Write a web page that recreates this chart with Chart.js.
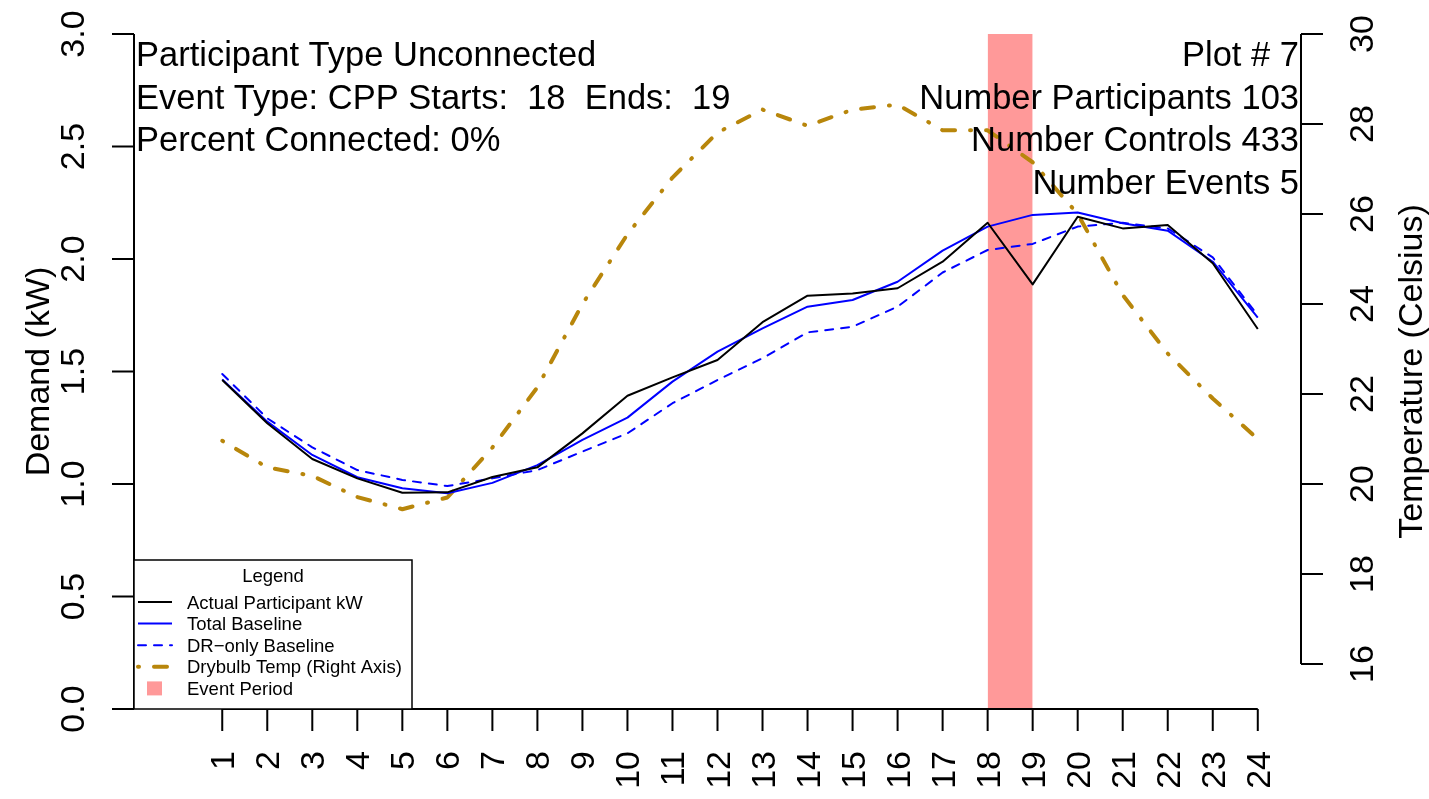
<!DOCTYPE html>
<html>
<head>
<meta charset="utf-8">
<title>Plot # 7</title>
<script src="https://cdn.jsdelivr.net/npm/chart.js@4.4.1/dist/chart.umd.min.js"></script>
<style>
  html, body { margin: 0; padding: 0; background: #fff; overflow: hidden; }
  #wrap { width: 1429px; height: 799px; }
</style>
</head>
<body>
<div id="wrap"><canvas id="chart" width="1429" height="799"></canvas></div>
<script>
// values (hour of day, kW, deg C)
const hours = [1, 2, 3, 4, 5, 6, 7, 8, 9, 10, 11, 12, 13, 14, 15, 16, 17, 18, 19, 20, 21, 22, 23, 24];
const actualKw = [1.462, 1.270, 1.111, 1.025, 0.961, 0.963, 1.031, 1.074, 1.225, 1.392, 1.474, 1.551,
  1.719, 1.837, 1.847, 1.870, 1.988, 2.161, 1.887, 2.188, 2.136, 2.151, 1.981, 1.689];
const totalBaseline = [1.465, 1.277, 1.129, 1.030, 0.981, 0.959, 1.005, 1.084, 1.196, 1.295, 1.455, 1.588,
  1.692, 1.788, 1.818, 1.899, 2.037, 2.144, 2.196, 2.207, 2.159, 2.126, 1.988, 1.739];
const drOnlyBaseline = [1.489, 1.292, 1.163, 1.062, 1.018, 0.991, 1.025, 1.062, 1.144, 1.225, 1.359, 1.462,
  1.559, 1.674, 1.699, 1.788, 1.940, 2.040, 2.067, 2.144, 2.161, 2.136, 2.007, 1.750];
const drybulbTemp = [20.96, 20.37, 20.18, 19.71, 19.44, 19.70, 20.81, 22.15, 24.00, 25.55, 26.81, 27.81,
  28.32, 27.96, 28.32, 28.43, 27.86, 27.86, 27.15, 26.00, 24.20, 22.90, 21.90, 21.00];
const eventHours = [18, 19];

const demandTicks = [0, 0.5, 1, 1.5, 2, 2.5, 3];
const demandTickLabels = ['0.0', '0.5', '1.0', '1.5', '2.0', '2.5', '3.0'];
const tempTicks = [16, 18, 20, 22, 24, 26, 28, 30];

const infoLeft = ['Participant Type Unconnected', 'Event Type: CPP Starts:  18  Ends:  19', 'Percent Connected: 0%'];
const infoRight = ['Plot # 7', 'Number Participants 103', 'Number Controls 433', 'Number Events 5'];
const legendLabels = ['Actual Participant kW', 'Total Baseline', 'DR\u2212only Baseline', 'Drybulb Temp (Right Axis)', 'Event Period'];

const FONT = '"Liberation Sans", Arial, Helvetica, sans-serif';
const EVENT_FILL = 'rgba(255, 0, 0, 0.4)';
const GOLD = '#B8860B';

const pts = (ys) => hours.map((h, i) => ({ x: h, y: ys[i] }));

const upText = (ctx, text, x, y, align) => {
  ctx.save();
  ctx.translate(x, y);
  ctx.rotate(-Math.PI / 2);
  ctx.textAlign = align;
  ctx.fillText(text, 0, 0);
  ctx.restore();
};

// R-style axes, annotations and legend box
const basePlot = {
  id: 'basePlot',
  afterDatasetsDraw(chart) {
    const { ctx, chartArea: a, scales: { x, y, y2 } } = chart;
    ctx.save();
    ctx.strokeStyle = '#000';
    ctx.fillStyle = '#000';
    ctx.lineWidth = 2;
    ctx.lineCap = 'butt';
    ctx.textBaseline = 'alphabetic';
    ctx.font = `34px ${FONT}`;

    // left axis
    ctx.beginPath();
    ctx.moveTo(a.left, y.getPixelForValue(demandTicks[0]));
    ctx.lineTo(a.left, y.getPixelForValue(demandTicks[demandTicks.length - 1]));
    demandTicks.forEach((v) => {
      const py = y.getPixelForValue(v);
      ctx.moveTo(a.left, py);
      ctx.lineTo(a.left - 22, py);
    });
    ctx.stroke();
    demandTicks.forEach((v, i) => upText(ctx, demandTickLabels[i], a.left - 50, y.getPixelForValue(v), 'center'));
    upText(ctx, 'Demand (kW)', 49, (a.top + a.bottom) / 2, 'center');

    // right axis
    ctx.beginPath();
    ctx.moveTo(a.right, y2.getPixelForValue(tempTicks[0]));
    ctx.lineTo(a.right, y2.getPixelForValue(tempTicks[tempTicks.length - 1]));
    tempTicks.forEach((v) => {
      const py = y2.getPixelForValue(v);
      ctx.moveTo(a.right, py);
      ctx.lineTo(a.right + 22, py);
    });
    ctx.stroke();
    tempTicks.forEach((v) => upText(ctx, String(v), a.right + 72, y2.getPixelForValue(v), 'center'));
    upText(ctx, 'Temperature (Celsius)', a.right + 121, (a.top + a.bottom) / 2, 'center');

    // bottom axis
    ctx.beginPath();
    ctx.moveTo(x.getPixelForValue(hours[0]), a.bottom);
    ctx.lineTo(x.getPixelForValue(hours[hours.length - 1]), a.bottom);
    hours.forEach((h) => {
      const px = x.getPixelForValue(h);
      ctx.moveTo(px, a.bottom);
      ctx.lineTo(px, a.bottom + 22);
    });
    ctx.stroke();
    hours.forEach((h) => upText(ctx, String(h), x.getPixelForValue(h) + 12, a.bottom + 42, 'right'));

    // header text
    ctx.font = `34.5px ${FONT}`;
    ctx.textAlign = 'left';
    infoLeft.forEach((t, i) => ctx.fillText(t, a.left + 2, 66 + i * 42.5));
    ctx.textAlign = 'right';
    infoRight.forEach((t, i) => ctx.fillText(t, a.right - 2, 66 + i * 42.5));

    // legend
    const lx0 = a.left, lx1 = a.left + 278, ly0 = a.bottom - 149, ly1 = a.bottom;
    ctx.fillStyle = '#fff';
    ctx.fillRect(lx0, ly0, lx1 - lx0, ly1 - ly0);
    ctx.lineWidth = 1.5;
    ctx.strokeRect(lx0, ly0, lx1 - lx0, ly1 - ly0);
    ctx.fillStyle = '#000';
    ctx.font = `18.5px ${FONT}`;
    ctx.textAlign = 'center';
    ctx.fillText('Legend', (lx0 + lx1) / 2, ly0 + 21.5);
    ctx.textAlign = 'left';
    const sets = chart.data.datasets;
    legendLabels.forEach((label, i) => {
      const cy = ly0 + 42 + i * 21.6;
      const ds = sets[i];
      if (i < 4) {
        ctx.save();
        ctx.strokeStyle = ds.borderColor;
        ctx.lineWidth = ds.borderWidth;
        ctx.lineCap = ds.borderCapStyle || 'butt';
        ctx.setLineDash(ds.borderDash || []);
        ctx.beginPath();
        ctx.moveTo(lx0 + 4, cy);
        ctx.lineTo(lx0 + 38, cy);
        ctx.stroke();
        ctx.restore();
      } else {
        ctx.fillStyle = ds.backgroundColor;
        ctx.fillRect(lx0 + 13, cy - 7, 15, 14);
        ctx.fillStyle = '#000';
      }
      ctx.fillText(label, lx0 + 53, cy + 6.5);
    });
    ctx.restore();
  },
};

new Chart(document.getElementById('chart'), {
  type: 'line',
  data: {
    datasets: [
      {
        label: legendLabels[0],
        data: pts(actualKw),
        yAxisID: 'y',
        borderColor: '#000000',
        borderWidth: 2,
        borderJoinStyle: 'round',
        pointRadius: 0,
        tension: 0,
      },
      {
        label: legendLabels[1],
        data: pts(totalBaseline),
        yAxisID: 'y',
        borderColor: '#0000FF',
        borderWidth: 2,
        borderJoinStyle: 'round',
        pointRadius: 0,
        tension: 0,
      },
      {
        label: legendLabels[2],
        data: pts(drOnlyBaseline),
        yAxisID: 'y',
        borderColor: '#0000FF',
        borderWidth: 2,
        borderDash: [8, 8],
        borderCapStyle: 'round',
        borderJoinStyle: 'round',
        pointRadius: 0,
        tension: 0,
      },
      {
        label: legendLabels[3],
        data: pts(drybulbTemp),
        yAxisID: 'y2',
        borderColor: GOLD,
        borderWidth: 4,
        borderDash: [1, 15, 13, 15],
        borderCapStyle: 'round',
        borderJoinStyle: 'round',
        pointRadius: 0,
        tension: 0,
      },
      {
        // event window, filled down to zero
        label: legendLabels[4],
        data: eventHours.map((h) => ({ x: h, y: demandTicks[demandTicks.length - 1] })),
        yAxisID: 'y',
        borderWidth: 0,
        borderColor: 'rgba(0,0,0,0)',
        backgroundColor: EVENT_FILL,
        fill: 'origin',
        pointRadius: 0,
      },
    ],
  },
  options: {
    responsive: false,
    devicePixelRatio: 1,
    animation: false,
    layout: { padding: { left: 134, right: 128, top: 34, bottom: 90 } },
    plugins: { legend: { display: false }, tooltip: { enabled: false } },
    scales: {
      x: { type: 'linear', min: -0.96, max: 24.96, display: false },
      y: { type: 'linear', min: 0, max: 3, display: false },
      y2: { type: 'linear', min: 15, max: 30, display: false },
    },
  },
  plugins: [basePlot],
});
</script>
</body>
</html>
